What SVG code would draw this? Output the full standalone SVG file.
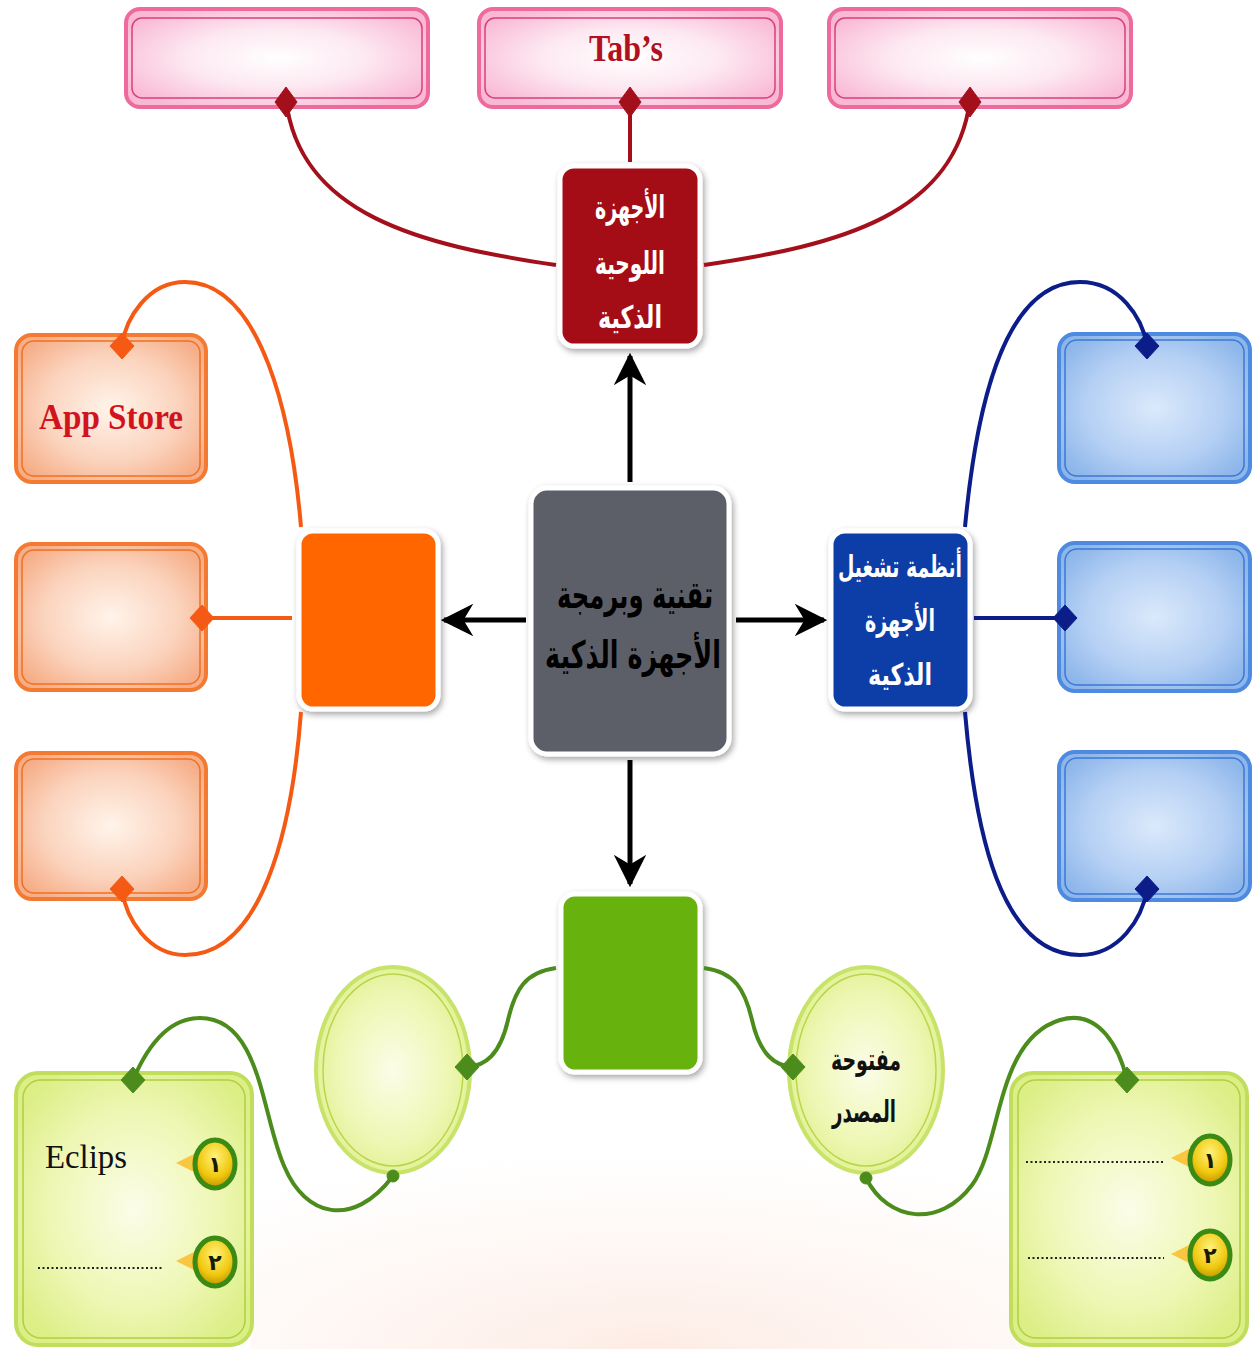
<svg xmlns="http://www.w3.org/2000/svg" width="1257" height="1349" viewBox="0 0 1257 1349">
<defs>
<radialGradient id="gPink" cx="0.5" cy="0.5" r="0.6"><stop offset="0" stop-color="#ffffff"/><stop offset="0.5" stop-color="#fde8f1"/><stop offset="1" stop-color="#f9b8d4"/></radialGradient>
<radialGradient id="gOrange" cx="0.5" cy="0.5" r="0.6"><stop offset="0" stop-color="#fff4ea"/><stop offset="0.6" stop-color="#fbd3bd"/><stop offset="1" stop-color="#f6ae88"/></radialGradient>
<radialGradient id="gBlue" cx="0.5" cy="0.5" r="0.6"><stop offset="0" stop-color="#dbe9fb"/><stop offset="0.6" stop-color="#b5d0f4"/><stop offset="1" stop-color="#8db6ea"/></radialGradient>
<radialGradient id="gGreen" cx="0.5" cy="0.5" r="0.6"><stop offset="0" stop-color="#fbfde8"/><stop offset="0.6" stop-color="#eef7b4"/><stop offset="1" stop-color="#dcee86"/></radialGradient>
<radialGradient id="gBadge" cx="0.5" cy="0.35" r="0.6"><stop offset="0" stop-color="#fff27a"/><stop offset="0.7" stop-color="#f0c810"/><stop offset="1" stop-color="#c8a000"/></radialGradient>
<radialGradient id="gBg" cx="0.5" cy="1" r="0.8"><stop offset="0" stop-color="#fbd4c4" stop-opacity="0.45"/><stop offset="1" stop-color="#fde3d8" stop-opacity="0"/></radialGradient>
<filter id="sh" x="-20%" y="-20%" width="140%" height="140%"><feDropShadow dx="2" dy="3" stdDeviation="3" flood-color="#000" flood-opacity="0.35"/></filter>
<marker id="arr" viewBox="0 0 10 10" refX="9" refY="5" markerWidth="6.5" markerHeight="6.5" orient="auto-start-reverse" markerUnits="strokeWidth"><path d="M0,0 L10,5 L0,10 L3,5 z" fill="#000"/></marker>
<style>
.hub{stroke:#fff;stroke-width:5;filter:url(#sh)}
.ar{font-family:"DejaVu Sans","Noto Sans",sans-serif;font-weight:bold;text-anchor:middle}
.lat{font-family:"Liberation Serif",serif;text-anchor:middle}
.conn{fill:none;stroke-width:4}
.black{stroke:#000;stroke-width:5;fill:none}
.dots{stroke:#222;stroke-width:2;stroke-dasharray:2 2.5}
.badgeTxt{font-family:"DejaVu Sans",sans-serif;font-weight:bold;font-size:22px;text-anchor:middle;fill:#1a1a00}
</style>
</defs>
<rect width="1257" height="1349" fill="#ffffff"/>
<g id="background">
<rect x="250" y="1100" width="800" height="249" fill="url(#gBg)"/>
</g>

<g id="pink1"><rect x="126" y="9" width="302" height="98" rx="14" fill="url(#gPink)" stroke="#ef6a9c" stroke-width="4"/><rect x="132" y="18" width="290" height="80" rx="10" fill="none" stroke="#d9407a" stroke-width="1.5"/></g>
<g id="pink2"><rect x="479" y="9" width="302" height="98" rx="14" fill="url(#gPink)" stroke="#ef6a9c" stroke-width="4"/><rect x="485" y="18" width="290" height="80" rx="10" fill="none" stroke="#d9407a" stroke-width="1.5"/><text class="lat" x="626" y="61" font-size="38" font-weight="bold" fill="#b01020" textLength="74" lengthAdjust="spacingAndGlyphs">Tab’s</text></g>
<g id="pink3"><rect x="829" y="9" width="302" height="98" rx="14" fill="url(#gPink)" stroke="#ef6a9c" stroke-width="4"/><rect x="835" y="18" width="290" height="80" rx="10" fill="none" stroke="#d9407a" stroke-width="1.5"/></g>

<g id="tablets"><rect class="hub" x="560" y="166" width="140" height="180" rx="14" fill="#a50f18"/>
<text class="ar" x="630" y="218" font-size="31" fill="#fff" textLength="70" lengthAdjust="spacingAndGlyphs">الأجهزة</text>
<text class="ar" x="630" y="274" font-size="31" fill="#fff" textLength="70" lengthAdjust="spacingAndGlyphs">اللوحية</text>
<text class="ar" x="630" y="328" font-size="31" fill="#fff" textLength="64" lengthAdjust="spacingAndGlyphs">الذكية</text></g>

<g id="center"><rect class="hub" x="531" y="488" width="198" height="266" rx="16" fill="#5d5e67"/>
<text class="ar" x="635" y="608" font-size="38" fill="#000" textLength="156" lengthAdjust="spacingAndGlyphs">تقنية وبرمجة</text>
<text class="ar" x="633" y="668" font-size="38" fill="#000" textLength="176" lengthAdjust="spacingAndGlyphs">الأجهزة الذكية</text></g>

<g id="orangeHub"><rect class="hub" x="299" y="531" width="139" height="178" rx="14" fill="#ff6600"/></g>
<g id="orange1"><rect x="16" y="335" width="190" height="147" rx="16" fill="url(#gOrange)" stroke="#f37a30" stroke-width="4"/><rect x="22" y="341" width="178" height="135" rx="12" fill="none" stroke="#f07020" stroke-width="1.5"/><text class="lat" x="111" y="429" font-size="36" font-weight="bold" fill="#d0141e" textLength="144" lengthAdjust="spacingAndGlyphs">App Store</text></g>
<g id="orange2"><rect x="16" y="544" width="190" height="146" rx="16" fill="url(#gOrange)" stroke="#f37a30" stroke-width="4"/><rect x="22" y="550" width="178" height="134" rx="12" fill="none" stroke="#f07020" stroke-width="1.5"/></g>
<g id="orange3"><rect x="16" y="753" width="190" height="146" rx="16" fill="url(#gOrange)" stroke="#f37a30" stroke-width="4"/><rect x="22" y="759" width="178" height="134" rx="12" fill="none" stroke="#f07020" stroke-width="1.5"/></g>

<g id="blueHub"><rect class="hub" x="831" y="531" width="139" height="178" rx="14" fill="#0a3ea6"/>
<text class="ar" x="900" y="577" font-size="30" fill="#fff" textLength="124" lengthAdjust="spacingAndGlyphs">أنظمة تشغيل</text>
<text class="ar" x="900" y="631" font-size="30" fill="#fff" textLength="70" lengthAdjust="spacingAndGlyphs">الأجهزة</text>
<text class="ar" x="900" y="685" font-size="30" fill="#fff" textLength="64" lengthAdjust="spacingAndGlyphs">الذكية</text></g>
<g id="blue1"><rect x="1059" y="334" width="191" height="148" rx="16" fill="url(#gBlue)" stroke="#4d8ae0" stroke-width="4"/><rect x="1065" y="340" width="179" height="136" rx="12" fill="none" stroke="#3c78d4" stroke-width="1.5"/></g>
<g id="blue2"><rect x="1059" y="543" width="191" height="148" rx="16" fill="url(#gBlue)" stroke="#4d8ae0" stroke-width="4"/><rect x="1065" y="549" width="179" height="136" rx="12" fill="none" stroke="#3c78d4" stroke-width="1.5"/></g>
<g id="blue3"><rect x="1059" y="752" width="191" height="148" rx="16" fill="url(#gBlue)" stroke="#4d8ae0" stroke-width="4"/><rect x="1065" y="758" width="179" height="136" rx="12" fill="none" stroke="#3c78d4" stroke-width="1.5"/></g>

<g id="greenHub"><rect class="hub" x="561" y="894" width="139" height="178" rx="14" fill="#67b20c"/></g>
<g id="circleLeft"><ellipse cx="393" cy="1070" rx="77" ry="103" fill="url(#gGreen)" stroke="#c8e36a" stroke-width="4"/><ellipse cx="393" cy="1070" rx="70" ry="96" fill="none" stroke="#b8d64a" stroke-width="1.5"/></g>
<g id="circleRight"><ellipse cx="866" cy="1070" rx="77" ry="103" fill="url(#gGreen)" stroke="#c8e36a" stroke-width="4"/><ellipse cx="866" cy="1070" rx="70" ry="96" fill="none" stroke="#b8d64a" stroke-width="1.5"/>
<text class="ar" x="866" y="1070" font-size="30" fill="#111" textLength="70" lengthAdjust="spacingAndGlyphs">مفتوحة</text>
<text class="ar" x="864" y="1122" font-size="30" fill="#111" textLength="64" lengthAdjust="spacingAndGlyphs">المصدر</text></g>

<g id="greenBoxLeft"><rect x="16" y="1073" width="236" height="272" rx="22" fill="url(#gGreen)" stroke="#c0de5c" stroke-width="4"/><rect x="23" y="1080" width="222" height="258" rx="18" fill="none" stroke="#b0d040" stroke-width="1.5"/>
<text class="lat" x="86" y="1168" font-size="34" fill="#111" textLength="82" lengthAdjust="spacingAndGlyphs">Eclips</text>
<line class="dots" x1="38" y1="1268" x2="162" y2="1268"/>
<path d="M176,1163 L196,1153 L196,1173 z" fill="#f8c640"/>
<ellipse cx="215" cy="1164" rx="20" ry="24" fill="url(#gBadge)" stroke="#3a8a14" stroke-width="5"/><text class="badgeTxt" x="215" y="1172">١</text>
<path d="M176,1261 L196,1251 L196,1271 z" fill="#f8c640"/>
<ellipse cx="215" cy="1262" rx="20" ry="24" fill="url(#gBadge)" stroke="#3a8a14" stroke-width="5"/><text class="badgeTxt" x="215" y="1270">٢</text></g>

<g id="greenBoxRight"><rect x="1011" y="1073" width="236" height="272" rx="22" fill="url(#gGreen)" stroke="#c0de5c" stroke-width="4"/><rect x="1018" y="1080" width="222" height="258" rx="18" fill="none" stroke="#b0d040" stroke-width="1.5"/>
<line class="dots" x1="1026" y1="1162" x2="1164" y2="1162"/>
<line class="dots" x1="1028" y1="1258" x2="1164" y2="1258"/>
<path d="M1171,1158 L1191,1148 L1191,1168 z" fill="#f8c640"/>
<ellipse cx="1210" cy="1160" rx="20" ry="24" fill="url(#gBadge)" stroke="#3a8a14" stroke-width="5"/><text class="badgeTxt" x="1210" y="1168">١</text>
<path d="M1171,1254 L1191,1244 L1191,1264 z" fill="#f8c640"/>
<ellipse cx="1210" cy="1255" rx="20" ry="24" fill="url(#gBadge)" stroke="#3a8a14" stroke-width="5"/><text class="badgeTxt" x="1210" y="1263">٢</text></g>

<g id="connectors">
<line class="black" x1="630" y1="482" x2="630" y2="356" marker-end="url(#arr)"/>
<line class="black" x1="526" y1="620" x2="444" y2="620" marker-end="url(#arr)"/>
<line class="black" x1="736" y1="620" x2="824" y2="620" marker-end="url(#arr)"/>
<line class="black" x1="630" y1="760" x2="630" y2="884" marker-end="url(#arr)"/>
<g stroke="#a3101c" fill="#a3101c">
<path class="conn" d="M630,162 L630,100"/>
<path class="conn" d="M556,265 C 420,245 300,215 286,100"/>
<path class="conn" d="M704,265 C 840,245 955,215 970,100"/>
<path d="M286,87 L297,102 L286,117 L275,102 z"/>
<path d="M630,87 L641,102 L630,117 L619,102 z"/>
<path d="M970,87 L981,102 L970,117 L959,102 z"/>
</g>
<g stroke="#f55a14" fill="#f55a14">
<path class="conn" d="M301,527 C 292,420 262,282 185,282 C 148,282 126,318 122,345"/>
<path class="conn" d="M301,712 C 292,830 262,955 185,955 C 148,955 126,918 122,890"/>
<path class="conn" d="M292,618 L202,618"/>
<path d="M122,333 L134,346 L122,359 L110,346 z"/>
<path d="M122,876 L134,889 L122,902 L110,889 z"/>
<path d="M202,605 L214,618 L202,631 L190,618 z"/>
</g>
<g stroke="#0c1d8a" fill="#0c1d8a">
<path class="conn" d="M965,527 C 975,420 1000,282 1080,282 C 1120,282 1142,318 1147,345"/>
<path class="conn" d="M965,712 C 975,830 1000,955 1080,955 C 1120,955 1142,918 1147,890"/>
<path class="conn" d="M974,618 L1065,618"/>
<path d="M1147,333 L1159,346 L1147,359 L1135,346 z"/>
<path d="M1147,876 L1159,889 L1147,902 L1135,889 z"/>
<path d="M1065,605 L1077,618 L1065,631 L1053,618 z"/>
</g>
<g stroke="#4b8c1c" fill="#4b8c1c">
<path class="conn" d="M556,968 C 525,972 515,990 508,1020 C 500,1055 485,1066 467,1067"/>
<path class="conn" d="M704,968 C 735,972 745,990 752,1020 C 760,1055 775,1066 793,1067"/>
<path class="conn" d="M133,1080 C 150,1040 172,1018 200,1018 C 262,1018 262,1120 285,1168 C 305,1215 352,1230 393,1176"/>
<path class="conn" d="M866,1178 C 888,1222 940,1228 972,1185 C 1002,1145 995,1040 1060,1020 C 1100,1008 1120,1050 1127,1080"/>
<path d="M467,1054 L479,1067 L467,1080 L455,1067 z"/>
<path d="M793,1054 L805,1067 L793,1080 L781,1067 z"/>
<path d="M133,1067 L145,1080 L133,1093 L121,1080 z"/>
<path d="M1127,1067 L1139,1080 L1127,1093 L1115,1080 z"/>
<circle cx="393" cy="1176" r="6"/>
<circle cx="866" cy="1178" r="6"/>
</g>
</g>
</svg>
